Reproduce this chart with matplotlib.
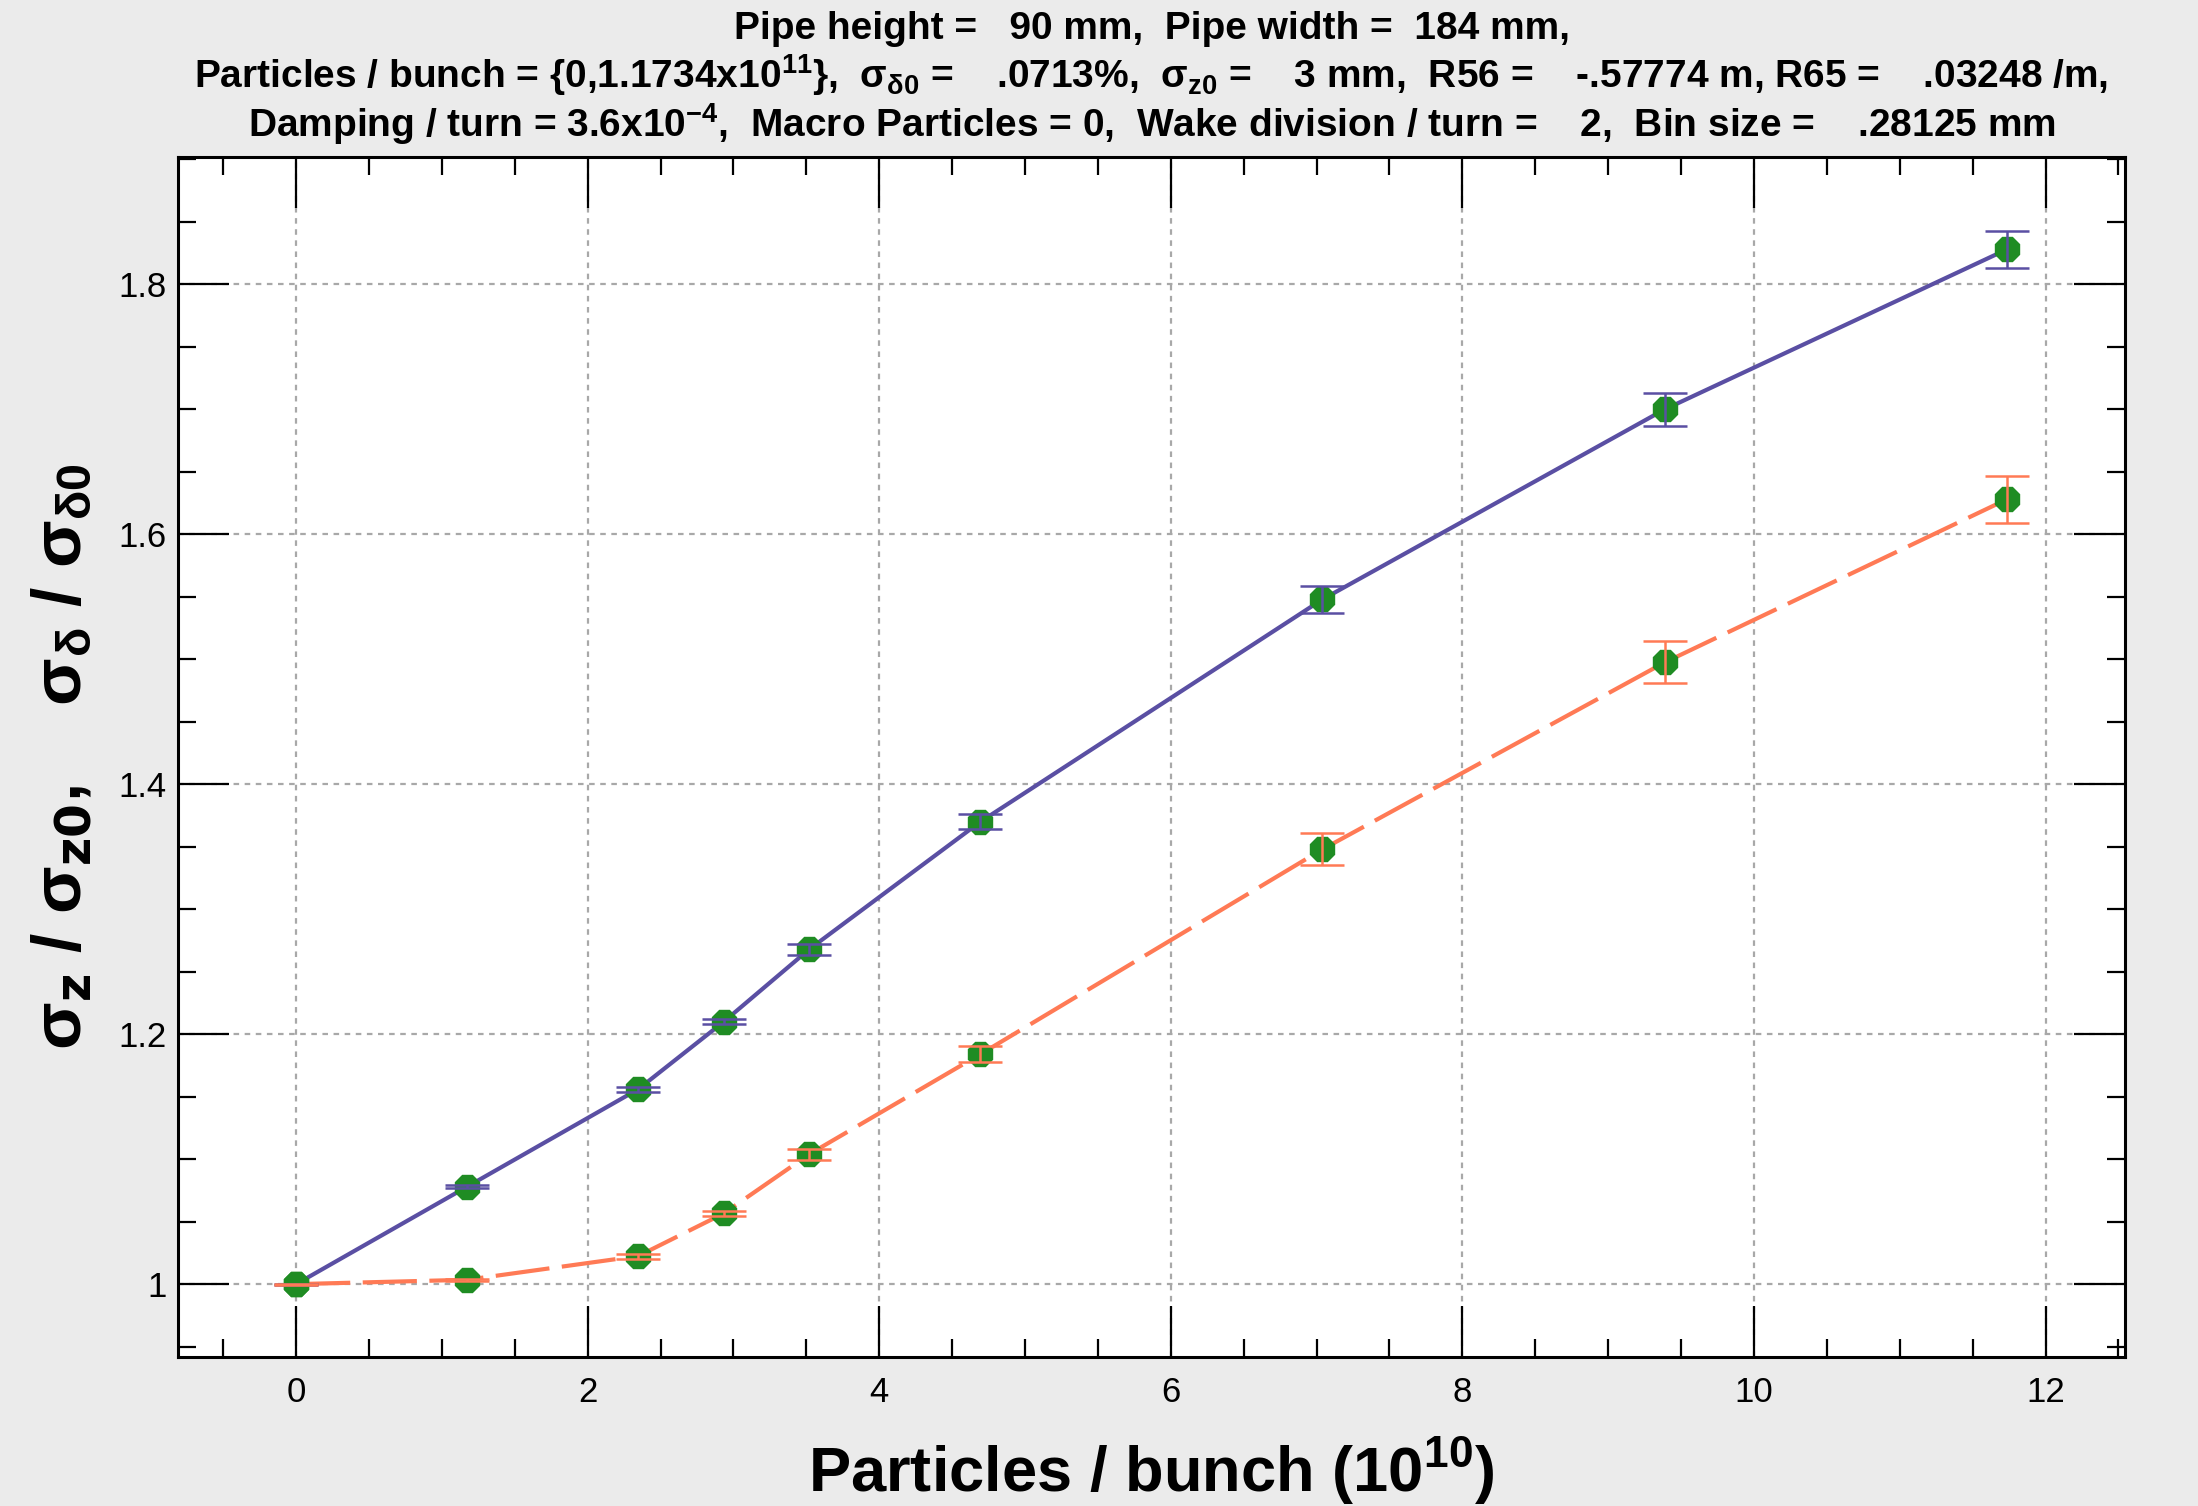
import matplotlib
matplotlib.use("Agg")
import matplotlib.pyplot as plt
from matplotlib.ticker import MultipleLocator, FuncFormatter

# ---------------- data ----------------
particles = [0.0, 1.1734, 2.3468, 2.9335, 3.5202, 4.6936, 7.0404, 9.3872, 11.734]
sigz_ratio = [1.000, 1.078, 1.156, 1.210, 1.268, 1.370, 1.548, 1.700, 1.828]
sigz_err = [0.0005, 0.001, 0.002, 0.002, 0.0043, 0.006, 0.011, 0.013, 0.015]
sigd_ratio = [1.000, 1.0035, 1.0225, 1.0566, 1.104, 1.184, 1.348, 1.4975, 1.628]
sigd_err = [0.0005, 0.001, 0.002, 0.0023, 0.0043, 0.0063, 0.0128, 0.0168, 0.019]
xticks = [0, 2, 4, 6, 8, 10, 12]
yticks = [1.0, 1.2, 1.4, 1.6, 1.8]

title_lines = [
    "Pipe height =   90 mm,  Pipe width =  184 mm,",
    r"Particles / bunch = {0,1.1734x10$^{11}$},  $\sigma_{\delta0}$ =    .0713%,  $\sigma_{z0}$ =    3 mm,  R56 =    -.57774 m, R65 =    .03248 /m,",
    r"Damping / turn = 3.6x10$^{-4}$,  Macro Particles = 0,  Wake division / turn =    2,  Bin size =    .28125 mm",
]

plt.rcParams['font.family'] = ['Liberation Sans', 'DejaVu Sans']
plt.rcParams['mathtext.default'] = 'regular'

BLUE = '#5a4fa3'
ORANGE = '#ff7a55'
GREEN = '#1f8c23'

fig = plt.figure(figsize=(21.98, 15.06), dpi=100, facecolor='#ebebeb')
ax = fig.add_axes([178/2198, 1 - 1357/1506, (2125-178)/2198, (1357-157)/1506])
ax.set_facecolor('white')

ax.plot(particles, sigz_ratio, color=BLUE, lw=3, zorder=2)
ax.plot(particles, sigd_ratio, color=ORANGE, lw=3, dashes=(13, 3), zorder=2)
ax.plot(particles, sigz_ratio, ls='none', marker='8', ms=19, color=GREEN, zorder=3)
ax.plot(particles, sigd_ratio, ls='none', marker='8', ms=19, color=GREEN, zorder=3)
ax.errorbar(particles, sigz_ratio, yerr=sigz_err, fmt='none', ecolor=BLUE,
            elinewidth=1.8, capsize=16, capthick=1.8, zorder=4)
ax.errorbar(particles, sigd_ratio, yerr=sigd_err, fmt='none', ecolor=ORANGE,
            elinewidth=1.8, capsize=16, capthick=1.8, zorder=4)

ax.set_xlim(-0.81, 12.545)
ax.set_ylim(0.9417, 1.902)
ax.set_xticks(xticks)
ax.set_yticks(yticks)
ax.xaxis.set_minor_locator(MultipleLocator(0.5))
ax.yaxis.set_minor_locator(MultipleLocator(0.05))
ax.yaxis.set_major_formatter(FuncFormatter(lambda v, p: ('%g' % round(v, 3))))
ax.xaxis.set_major_formatter(FuncFormatter(lambda v, p: ('%g' % round(v, 3))))

ax.tick_params(which='both', direction='in', top=True, right=True, colors='black')
ax.tick_params(which='major', length=37, width=1.6, labelsize=25)
ax.tick_params(which='minor', length=13, width=1.6)
ax.tick_params(axis='x', which='major', pad=14)
ax.tick_params(axis='y', which='major', pad=8)
for s in ax.spines.values():
    s.set_linewidth(2.2)

ax.grid(True, which='major', color='#a8a8a8', lw=1.6, linestyle=(0, (2.5, 2.5)), zorder=0)
ax.set_axisbelow(True)

cx = (178 + 2125) / 2 / 2198
ys = [1 - 39/1506, 1 - 88/1506, 1 - 137/1506]
for t, y in zip(title_lines, ys):
    fig.text(cx, y, t, ha='center', va='baseline', fontsize=28, fontweight='bold')

fig.text(cx, 1 - 1492/1506, r"Particles / bunch (10$^{10}$)", ha='center', va='baseline',
         fontsize=45.5, fontweight='bold')
fig.text(63/2198, 1 - 757/1506,
         r"$\sigma_{\mathbf{z}}$ / $\sigma_{\mathbf{z0}}$,    $\sigma_{\delta}$ / $\sigma_{\delta0}$",
         rotation=90, ha='center', va='center', fontsize=50, fontweight='bold')

fig.savefig('out.png', dpi=100, facecolor=fig.get_facecolor())
